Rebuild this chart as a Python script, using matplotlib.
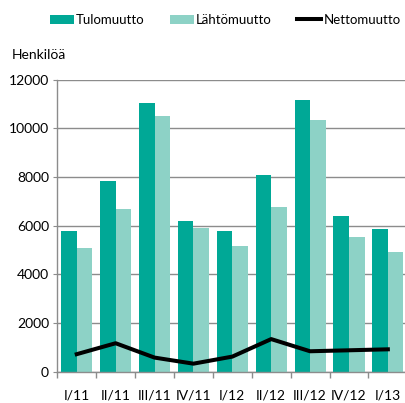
import matplotlib.pyplot as plt
import numpy as np

plt.rcParams['font.family'] = ['Lato', 'DejaVu Sans']

# quarterly migration data
quarters = ["I/11", "II/11", "III/11", "IV/11", "I/12", "II/12", "III/12", "IV/12", "I/13"]
tulomuutto = [5800, 7850, 11050, 6200, 5800, 8100, 11150, 6400, 5850]
lahtomuutto = [5080, 6700, 10500, 5890, 5180, 6780, 10330, 5530, 4930]
nettomuutto = [720, 1170, 580, 330, 620, 1340, 840, 880, 920]

teal = "#00A896"
light = "#8DD2C6"
grey = "#8C8C8C"

fig = plt.figure(figsize=(4.06, 4.03), dpi=100)
ax = fig.add_axes([57.3 / 406, 31.3 / 403, 350 / 406, 292 / 403])

x = np.arange(len(quarters))
w = 0.4
b1 = ax.bar(x - w / 2, tulomuutto, width=w, color=teal, label="Tulomuutto", zorder=2)
b2 = ax.bar(x + w / 2, lahtomuutto, width=w, color=light, label="Lähtömuutto", zorder=2)
l1, = ax.plot(x, nettomuutto, color="black", linewidth=2.9, label="Nettomuutto", zorder=3)

ax.set_xlim(-0.5, len(quarters) - 0.5)
ax.set_ylim(0, 12000)
ax.set_yticks(range(0, 12001, 2000))
ax.yaxis.grid(True, color=grey, linewidth=1.0, zorder=0)
ax.set_axisbelow(True)

ax.set_xticks(x)
ax.set_xticklabels(quarters, fontsize=10)
ax.set_xticks(np.arange(-0.5, len(quarters), 1), minor=True)
ax.tick_params(axis="x", which="major", length=0, pad=12.5)
ax.tick_params(axis="x", which="minor", length=4, color=grey, width=1)
ax.tick_params(axis="y", length=3, color=grey, labelsize=10, pad=3)

for s in ["top", "right"]:
    ax.spines[s].set_visible(False)
for s in ["left", "bottom"]:
    ax.spines[s].set_color(grey)
    ax.spines[s].set_linewidth(1.0)

fig.text(12 / 406, 1 - 55 / 403, "Henkilöä", fontsize=10, va="center")

fig.legend(handles=[b1, b2, l1], loc="center", bbox_to_anchor=(225 / 406, 1 - 20 / 403), ncol=3,
           frameon=False, fontsize=9.5, handlelength=1.85, handleheight=0.65,
           handletextpad=0.15, columnspacing=1.9)

fig.savefig("out.png", dpi=100)
